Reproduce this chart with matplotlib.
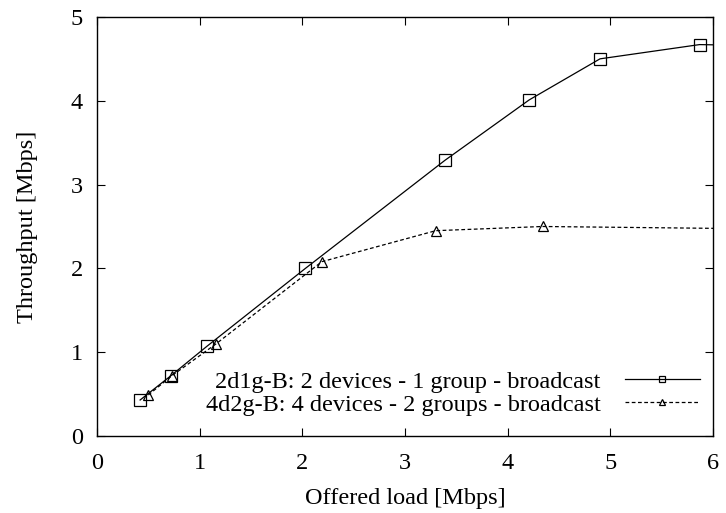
import matplotlib
matplotlib.use('Agg')
import matplotlib.pyplot as plt

# Offered load vs throughput, both in Mbps
load_2d1g = [0.42, 0.72, 1.07, 2.03, 3.39, 4.21, 4.90, 5.87, 6.80]
thr_2d1g = [0.43, 0.72, 1.07, 2.00, 3.29, 4.01, 4.50, 4.67, 4.65]
load_4d2g = [0.50, 0.73, 1.16, 2.19, 3.30, 4.34, 6.60]
thr_4d2g = [0.49, 0.72, 1.10, 2.08, 2.45, 2.50, 2.47]

labels = ['2d1g-B: 2 devices - 1 group - broadcast',
          '4d2g-B: 4 devices - 2 groups - broadcast']

plt.rcParams['font.family'] = ['Liberation Serif', 'DejaVu Serif']
plt.rcParams['font.size'] = 17.5

fig = plt.figure(figsize=(7.26, 5.13), dpi=100)
ax = fig.add_axes([0.1336, 0.150, 0.8484, 0.817])

ax.plot(load_2d1g, thr_2d1g, color='black', lw=0.9, marker='s', ms=8,
        mfc='none', mew=0.9, label=labels[0])
ax.plot(load_4d2g, thr_4d2g, color='black', lw=0.9, ls=(0, (3, 2)),
        marker='^', ms=7, mfc='none', mew=0.9, label=labels[1])

ax.set_xlim(0, 6)
ax.set_ylim(0, 5)
ax.set_xticks(range(0, 7))
ax.set_yticks(range(0, 6))
ax.tick_params(direction='in', top=True, right=True, length=6, width=0.8)
ax.tick_params(axis='x', pad=12)
ax.tick_params(axis='y', pad=10)
for s in ax.spines.values():
    s.set_linewidth(1.0)

ax.set_xlabel('Offered load [Mbps]', labelpad=10)
ax.set_ylabel('Throughput [Mbps]', labelpad=24)

ax.legend(loc='lower right', frameon=False, markerfirst=False,
          handlelength=3.1, markerscale=0.6, labelspacing=0.05,
          borderaxespad=0.0, handletextpad=1.0, bbox_to_anchor=(0.995, 0.025))

fig.savefig('out.png', dpi=100)
